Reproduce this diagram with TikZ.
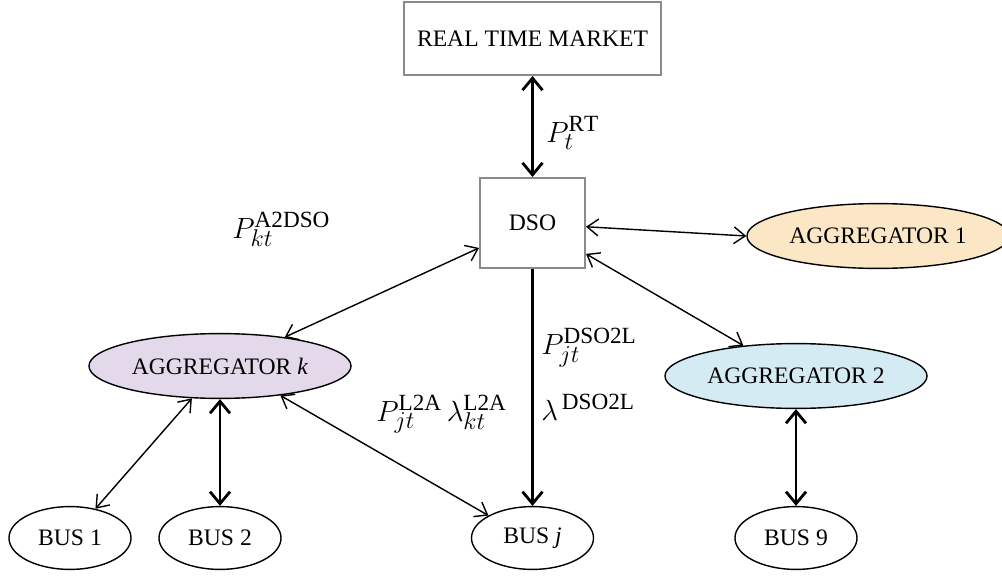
\documentclass[tikz,border=0pt]{standalone}
\usepackage{fontspec}
\setmainfont{Liberation Serif}
\usetikzlibrary{shapes.geometric,arrows.meta}
\DeclareMathSizes{20}{20}{16.5}{11}
\definecolor{boxgray}{HTML}{8A8A8A}
\definecolor{aggonefill}{HTML}{FBE7C6}
\definecolor{aggtwofill}{HTML}{D4EBF4}
\definecolor{aggkfill}{HTML}{E4D9EA}
\begin{document}
\begin{tikzpicture}[x=0.025cm,y=-0.025cm,
  every node/.style={font=\fontsize{16.8}{19}\selectfont},
  market/.style={draw=boxgray,line width=1.4pt,rectangle,inner sep=0pt},
  agg/.style={ellipse,draw,line width=1pt,minimum width=6.55cm,minimum height=1.62cm,inner sep=0pt},
  bus/.style={ellipse,draw,line width=1pt,minimum width=3.05cm,minimum height=1.57cm,inner sep=0pt},
  thinlink/.style={line width=1pt,{Straight Barb[length=2.8mm,width=4.2mm]}-{Straight Barb[length=2.8mm,width=4.2mm]}},
  thicklink/.style={line width=2pt,{Straight Barb[length=3mm,width=5mm]}-{Straight Barb[length=3mm,width=5mm]}},
  downlink/.style={line width=2pt,-{Straight Barb[length=3mm,width=5mm]}},
  lab/.style={font=\fontsize{20}{24}\selectfont,inner sep=0pt,anchor=base west}]
\useasboundingbox (0,0) rectangle (1002,579);

% market and operator
\node[market,minimum width=6.4cm,minimum height=1.825cm] (rtm) at (532.5,38.5) {REAL TIME MARKET};
\node[market,minimum width=2.625cm,minimum height=2.25cm] (dso) at (532.5,223) {DSO};

% aggregators
\node[agg,fill=aggonefill] (agg1) at (878,236) {AGGREGATOR 1};
\node[agg,fill=aggtwofill] (agg2) at (796,376) {AGGREGATOR 2};
\node[agg,fill=aggkfill] (aggk) at (220,366) {AGGREGATOR \textit{k}};

% buses
\node[bus] (bus1) at (70,538) {BUS 1};
\node[bus] (bus2) at (220,538) {BUS 2};
\node[bus] (busj) at (532.5,538) {BUS \textit{j}};
\node[bus] (bus9) at (796,538) {BUS 9};

% connectors
\draw[thicklink] (rtm.south) -- (dso.north);
\draw[thinlink] (dso.-4) -- (agg1.west);
\draw[thinlink] (dso.-30) -- (agg2.150);
\draw[thinlink] (aggk.24) -- (dso.205);
\draw[downlink] (dso.south) -- (busj.north);
\draw[thinlink] (aggk.229) -- (bus1.49);
\draw[thicklink] (aggk.south) -- (bus2.north);
\draw[thinlink] (aggk.-26) -- (busj.153);
\draw[thicklink] (agg2.south) -- (bus9.north);

% flow labels
\node[lab] (lrt) at (546,142) {$P_t^{\mathrm{RT}}$};
\node[lab] (la2dso) at (232,238) {$P_{kt}^{\mathrm{A2DSO}}$};
\node[lab,anchor=north west,align=left,font=\fontsize{20}{47}\selectfont] (ldso2l) at (541,328)
  {$P_{jt}^{\mathrm{DSO2L}}$\\$\lambda^{\,\mathrm{DSO2L}}$};
\node[lab] (ll2a) at (376,421) {$P_{jt}^{\mathrm{L2A}}\,\lambda_{kt}^{\mathrm{L2A}}$};
\end{tikzpicture}
\end{document}
